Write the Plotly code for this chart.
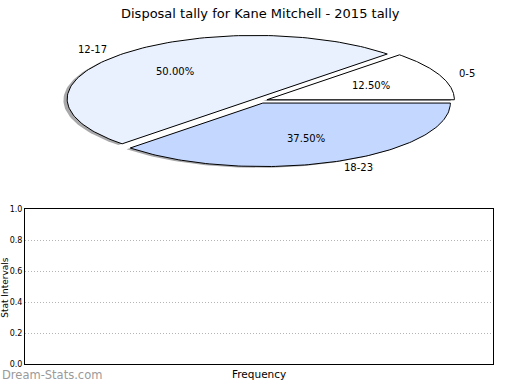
import numpy as np
import plotly.graph_objects as go

# ---- data ----
categories = ["0-5", "12-17", "18-23"]
counts = [1, 4, 3]
colors = ["#ffffff", "#e9f0fe", "#c4d7fe"]
explode = [0.04, 0.04, 0.04]
title_text = "Disposal tally for Kane Mitchell - 2015 tally"
ytick_vals = [0.0, 0.2, 0.4, 0.6, 0.8, 1.0]

W, H = 520, 390
# pie axes pixel geometry
PX_PER_UX = 187.5
PX_PER_UY = 65.0
CX, CY = 260.0, 99.0
PIE_TOP, PIE_BOT = 0.0, 200.0

fig = go.Figure()

total = float(sum(counts))
fracs = [c / total for c in counts]
starts = np.cumsum([0.0] + fracs[:-1]) * 360.0
ends = np.cumsum(fracs) * 360.0

def wedge(t1, t2, dx, dy):
    th = np.radians(np.linspace(t1, t2, 120))
    xs = np.concatenate([[dx], dx + np.cos(th), [dx]])
    ys = np.concatenate([[dy], dy + np.sin(th), [dy]])
    return xs, ys

shifts = []
for i, (t1, t2) in enumerate(zip(starts, ends)):
    mid = np.radians((t1 + t2) / 2)
    shifts.append((explode[i] * np.cos(mid), explode[i] * np.sin(mid), mid))

# shadows
for i, (t1, t2) in enumerate(zip(starts, ends)):
    dx, dy, _ = shifts[i]
    xs, ys = wedge(t1, t2, dx - 0.02, dy - 0.02)
    fig.add_trace(go.Scatter(x=xs, y=ys, xaxis="x2", yaxis="y2", mode="lines",
                             fill="toself", fillcolor="rgba(110,110,115,0.6)",
                             line=dict(width=0), hoverinfo="skip", showlegend=False))
# wedges
for i, (t1, t2) in enumerate(zip(starts, ends)):
    dx, dy, _ = shifts[i]
    xs, ys = wedge(t1, t2, dx, dy)
    fig.add_trace(go.Scatter(x=xs, y=ys, xaxis="x2", yaxis="y2", mode="lines",
                             fill="toself", fillcolor=colors[i],
                             line=dict(width=1, color="black"), hoverinfo="skip",
                             showlegend=False, name=categories[i]))

annotations = []
for i in range(len(categories)):
    dx, dy, mid = shifts[i]
    lx = dx + 1.1 * np.cos(mid)
    ly = dy + 1.1 * np.sin(mid)
    annotations.append(dict(x=lx, y=ly, xref="x2", yref="y2", text=categories[i],
                            showarrow=False, xanchor="left" if lx > 0 else "right",
                            yanchor="middle", font=dict(size=10, color="black")))
    px = dx + 0.6 * np.cos(mid)
    py = dy + 0.6 * np.sin(mid)
    annotations.append(dict(x=px, y=py, xref="x2", yref="y2",
                            text="%.2f%%" % (fracs[i] * 100), showarrow=False,
                            xanchor="center", yanchor="middle",
                            font=dict(size=10, color="black")))

# empty bottom axes
fig.add_trace(go.Scatter(x=[], y=[], xaxis="x", yaxis="y", showlegend=False))

annotations.append(dict(x=5.5 / W, y=1 - 290 / H, xref="paper", yref="paper",
                        text="Stat Intervals", textangle=-90, showarrow=False,
                        xanchor="center", yanchor="middle",
                        font=dict(size=9, color="black")))
annotations.append(dict(x=259 / W, y=1 - 379 / H, xref="paper", yref="paper",
                        text="Frequency", showarrow=False, xanchor="center",
                        yanchor="middle", font=dict(size=10.5, color="black")))
annotations.append(dict(x=0, y=1 - 380 / H, xref="paper", yref="paper",
                        text="Dream-Stats.com", showarrow=False, xanchor="left",
                        yanchor="middle", font=dict(size=11.5, color="#9a9a9a")))
annotations.append(dict(x=0.5, y=1 - 10 / H, xref="paper", yref="paper",
                        text=title_text, showarrow=False, xanchor="center",
                        yanchor="middle", font=dict(size=13, color="black")))

x2_half = CX / PX_PER_UX
fig.update_layout(
    width=W, height=H,
    margin=dict(l=0, r=0, t=0, b=0),
    paper_bgcolor="white", plot_bgcolor="rgba(0,0,0,0)",
    font=dict(family="DejaVu Sans", color="black"),
    annotations=annotations,
    xaxis2=dict(domain=[0, 1], range=[-x2_half, (W - CX) / PX_PER_UX], visible=False,
                anchor="y2", fixedrange=True),
    yaxis2=dict(domain=[1 - PIE_BOT / H, 1 - PIE_TOP / H],
                range=[-(PIE_BOT - CY) / PX_PER_UY, (CY - PIE_TOP) / PX_PER_UY],
                visible=False, anchor="x2", fixedrange=True),
    xaxis=dict(domain=[25 / W, 493 / W], range=[0, 1], showticklabels=False,
               ticks="", showgrid=False, zeroline=False, showline=True,
               linecolor="black", linewidth=1, mirror=True, anchor="y"),
    yaxis=dict(domain=[1 - 369 / H, 1 - 210 / H], range=[0, 1], tickvals=ytick_vals,
               tickformat=".1f", ticks="", showgrid=True, gridcolor="#b4b4b4",
               griddash="1px,2px", gridwidth=1, zeroline=False, showline=True,
               linecolor="black", linewidth=1, mirror=True, anchor="x",
               tickfont=dict(size=8, color="black")),
)

fig.write_html("out.html", config={"displayModeBar": False},
               post_script="document.body.style.margin='0';"
                           "document.body.style.overflow='hidden';")
